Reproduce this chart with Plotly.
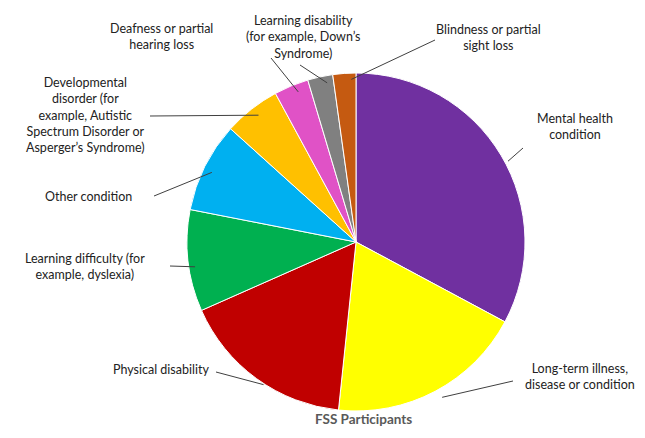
import math
import plotly.graph_objects as go

labels = ["Mental health<br>condition", "Long-term illness,<br>disease or condition", "Physical disability",
          "Learning difficulty (for<br>example, dyslexia)", "Other condition",
          "Developmental<br>disorder (for<br>example, Autistic<br>Spectrum Disorder or<br>Asperger’s Syndrome)",
          "Deafness or partial<br>hearing loss", "Learning disability<br>(for example, Down’s<br>Syndrome)",
          "Blindness or partial<br>sight loss"]
values = [32.8, 18.8, 16.7, 9.7, 8.6, 5.4, 3.3, 2.4, 2.2]
colors = ["#7030A0", "#FFFF00", "#C00000", "#00B050", "#00B0F0", "#FFC000", "#E052C6", "#808080", "#C55A11"]
label_pos = [(567, 118), (572, 368), (153, 361), (77, 258), (80, 188), (77, 107), (153, 29), (295, 29), (480, 30)]
line_end = [(515, 140), (505, 373), (208, 364), (162, 258), (146, 188), (142, 108), (263, 50), (292, 57), (427, 32)]

W, H = 645, 438
L, R, T, B = 179, 128, 64, 34
pw, ph = W - L - R, H - T - B
cx, cy, rad = 355, 240, 169

def px2paper(x, y):
    return (x - L) / pw, (H - B - y) / ph

fig = go.Figure(go.Pie(labels=labels, values=values, sort=False, direction="clockwise", rotation=0,
                       marker=dict(colors=colors, line=dict(color="white", width=1)),
                       textinfo="none", hoverinfo="label+value", showlegend=False))

total = sum(values)
cum = 0
shapes, annos = [], []
for i, v in enumerate(values):
    mid = (cum + v / 2) / total * 2 * math.pi
    cum += v
    ex, ey = cx + rad * math.sin(mid), cy - rad * math.cos(mid)
    x0, y0 = px2paper(ex, ey)
    x1, y1 = px2paper(*line_end[i])
    shapes.append(dict(type="line", xref="paper", yref="paper", x0=x0, y0=y0, x1=x1, y1=y1,
                       line=dict(color="#404040", width=1)))
    tx, ty = px2paper(*label_pos[i])
    annos.append(dict(text=labels[i], x=tx, y=ty, xref="paper", yref="paper", showarrow=False,
                      xanchor="center", yanchor="middle", font=dict(size=12.5, color="#222222")))
annos.append(dict(text="<b>FSS Participants</b>", x=px2paper(355, 421)[0], y=px2paper(355, 421)[1],
                  xref="paper", yref="paper", showarrow=False, font=dict(size=13.5, color="#595959")))

fig.update_layout(width=W, height=H, margin=dict(l=L, r=R, t=T, b=B), paper_bgcolor="white",
                  font=dict(family="Lato, sans-serif"), shapes=shapes, annotations=annos)
fig.write_html("out.html")
